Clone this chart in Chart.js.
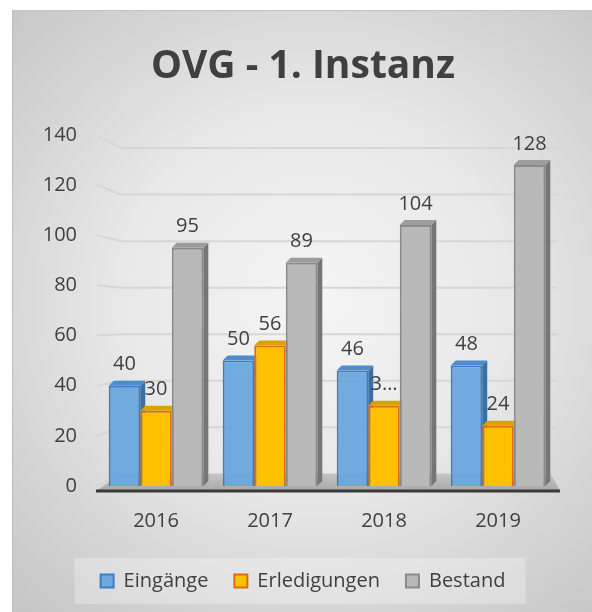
<!DOCTYPE html>
<html>
<head>
<meta charset="utf-8">
<script src="https://cdn.jsdelivr.net/npm/chart.js@4/dist/chart.umd.min.js"></script>
<style>
  html, body { margin: 0; padding: 0; background: #ffffff; width: 592px; height: 612px; overflow: hidden; }
  #frame {
    position: absolute; left: 12px; top: 10px; width: 580px; height: 602px;
    border-left: 1px solid #bdbdbd; border-top: 1px solid #c4c4c4;
    background: radial-gradient(ellipse 75% 70% at 52% 48%, #f5f5f5 0%, #e8e8e8 45%, #d2d2d2 80%, #c6c6c6 100%);
  }
  canvas { position: absolute; left: 0; top: 0; }
</style>
</head>
<body>
<div id="frame"><canvas id="c" width="580" height="602"></canvas></div>
<script>
// ---- data ----
const categories = ["2016", "2017", "2018", "2019"];
const eingaenge = [40, 50, 46, 48];
const erledigungen = [30, 56, 32, 24];
const bestand = [95, 89, 104, 128];
const eingaengeLabels = ["40", "50", "46", "48"];
const erledigungenLabels = ["30", "56", "3\u2026", "24"];
const bestandLabels = ["95", "89", "104", "128"];
const yTicks = [0, 20, 40, 60, 80, 100, 120, 140];

const FONT = "'Open Sans', 'Noto Sans', sans-serif";
const TXT = "#404040";

const faceColors = [
  { side: "#3a6fa5", top: "#4d8ccd" },
  { side: "#c48f00", top: "#d9a300" },
  { side: "#767676", top: "#9c9c9c" }
];
const labelSets = [eingaengeLabels, erledigungenLabels, bestandLabels];

const depthPlugin = {
  id: "depth",
  beforeDraw(chart) {
    const lg = chart.legend;
    if (lg && lg.legendHitBoxes && lg.legendHitBoxes.length) {
      const hb = lg.legendHitBoxes;
      const l = Math.min(...hb.map(h => h.left)) - 26;
      const r = Math.max(...hb.map(h => h.left + h.width)) + 20;
      const cy = hb[0].top + hb[0].height / 2;
      const ctx = chart.ctx;
      ctx.save();
      ctx.fillStyle = "rgba(255,255,255,0.28)";
      ctx.fillRect(l, cy - 23, r - l, 46);
      ctx.restore();
    }
  },
  beforeDatasetsDraw(chart) {
    const ctx = chart.ctx;
    const a = chart.chartArea;
    const y = chart.scales.y, yb = chart.scales.yb;
    ctx.save();
    ctx.strokeStyle = "#d6d6d6";
    ctx.lineWidth = 2;
    yTicks.forEach(v => {
      const yf = y.getPixelForValue(v);
      const yk = yb.getPixelForValue(v);
      ctx.beginPath();
      ctx.moveTo(a.left - 2, yf);
      ctx.lineTo(a.left + 22, yk);
      ctx.lineTo(a.right + 2, yk);
      ctx.stroke();
    });
    const base = y.getPixelForValue(0);
    const g = ctx.createLinearGradient(0, base - 12, 0, base + 5);
    g.addColorStop(0, "#c4c4c4");
    g.addColorStop(1, "#a8a8a8");
    ctx.fillStyle = g;
    ctx.beginPath();
    ctx.moveTo(a.left - 3, base + 5);
    ctx.lineTo(a.left + 22, yb.getPixelForValue(0));
    ctx.lineTo(a.right - 4, yb.getPixelForValue(0));
    ctx.lineTo(a.right + 5, base + 5);
    ctx.closePath();
    ctx.fill();
    ctx.strokeStyle = "#3a3a3a";
    ctx.lineWidth = 3;
    ctx.beginPath();
    ctx.moveTo(a.left - 3, base + 5);
    ctx.lineTo(a.right + 5, base + 5);
    ctx.stroke();
    const d = 5;
    chart.data.datasets.forEach((ds, di) => {
      const meta = chart.getDatasetMeta(di);
      meta.data.forEach(bar => {
        const {x, y: top, width, base: b} = bar.getProps(["x", "y", "width", "base"], true);
        const l = x - width / 2, r = x + width / 2;
        ctx.fillStyle = faceColors[di].side;
        ctx.beginPath();
        ctx.moveTo(r, top); ctx.lineTo(r + d, top - d); ctx.lineTo(r + d, b - d); ctx.lineTo(r, b);
        ctx.closePath(); ctx.fill();
        ctx.fillStyle = faceColors[di].top;
        ctx.beginPath();
        ctx.moveTo(l, top); ctx.lineTo(l + d, top - d); ctx.lineTo(r + d, top - d); ctx.lineTo(r, top);
        ctx.closePath(); ctx.fill();
      });
    });
    ctx.restore();
  },
  afterDatasetsDraw(chart) {
    const ctx = chart.ctx;
    ctx.save();
    ctx.font = "20px " + FONT;
    ctx.fillStyle = TXT;
    ctx.textAlign = "center";
    ctx.textBaseline = "middle";
    chart.data.datasets.forEach((ds, di) => {
      const meta = chart.getDatasetMeta(di);
      meta.data.forEach((bar, i) => {
        ctx.fillText(labelSets[di][i], bar.x, bar.y - 21);
      });
    });
    ctx.restore();
  }
};

new Chart(document.getElementById("c"), {
  type: "bar",
  data: {
    labels: categories,
    datasets: [
      { label: "Eingänge", data: eingaenge, backgroundColor: "rgba(106,166,222,0.95)", borderColor: "#3c7ec6", borderWidth: 2 },
      { label: "Erledigungen", data: erledigungen, backgroundColor: "#ffc000", borderColor: "#dc6c12", borderWidth: 2 },
      { label: "Bestand", data: bestand, backgroundColor: "#b9b9b9", borderColor: "#8a8a8a", borderWidth: 2 }
    ]
  },
  options: {
    responsive: false,
    animation: false,
    devicePixelRatio: 1,
    layout: { padding: { left: 0, right: 0, top: 0, bottom: 12 } },
    datasets: { bar: { categoryPercentage: 0.83, barPercentage: 1.0 } },
    plugins: {
      title: {
        display: true, text: "OVG - 1. Instanz",
        color: TXT, font: { family: FONT, size: 39, weight: "bold" },
        padding: { top: 32, bottom: 45 }
      },
      legend: {
        position: "bottom",
        labels: { color: TXT, font: { family: FONT, size: 20 }, boxWidth: 13, boxHeight: 13, padding: 26 }
      },
      tooltip: { enabled: false }
    },
    scales: {
      x: {
        grid: { display: false, drawTicks: false },
        border: { display: false },
        ticks: { color: TXT, font: { family: FONT, size: 20 }, padding: 23 },
        afterFit(s) { s.height = 59; }
      },
      y: {
        min: 0, max: 140,
        grid: { display: false, drawTicks: false },
        border: { display: false },
        ticks: { stepSize: 20, color: TXT, font: { family: FONT, size: 20 }, padding: 22 },
        afterFit(s) { s.width = 86; }
      },
      yb: {
        position: "right",
        min: -5.2, max: 145.7,
        grid: { display: false, drawTicks: false },
        border: { display: false },
        ticks: { display: false },
        afterFit(s) { s.width = 38; }
      }
    }
  },
  plugins: [depthPlugin]
});
</script>
</body>
</html>
